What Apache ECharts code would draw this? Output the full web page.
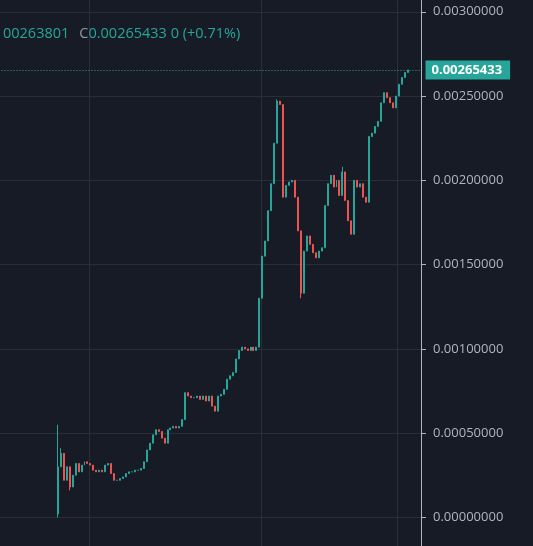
<!DOCTYPE html>
<html>
<head>
<meta charset="utf-8">
<script src="https://cdn.jsdelivr.net/npm/echarts@6.0.0/dist/echarts.min.js"></script>
<style>
  html, body { margin: 0; padding: 0; background: #171b26; }
  #chart { width: 533px; height: 546px; }
</style>
</head>
<body>
<div id="chart"></div>
<script>
// closes, one per candle
const closes = [
  0.00030, 0.00038, 0.00022, 0.00030, 0.00018, 0.00025, 0.00032, 0.00027, 0.00031, 0.00033,
  0.00032, 0.00031, 0.00028, 0.00027, 0.00028, 0.00027, 0.00031, 0.00032, 0.00026, 0.00022,
  0.00022, 0.00023, 0.00024, 0.00026, 0.00027, 0.00027, 0.00028, 0.00028, 0.00029, 0.00033,
  0.00040, 0.00044, 0.00049, 0.00052, 0.00051, 0.00047, 0.00044, 0.00052, 0.00053, 0.00054,
  0.00053, 0.00054, 0.00058, 0.00074, 0.00072, 0.00071, 0.00071, 0.00072, 0.00070, 0.00072,
  0.00069, 0.00072, 0.00066, 0.00063, 0.00072, 0.00073, 0.00076, 0.00082, 0.00084, 0.00086,
  0.00094, 0.00099, 0.00101, 0.00100, 0.00099, 0.00101, 0.00099, 0.00101, 0.00130, 0.00155,
  0.00164, 0.00182, 0.00198, 0.00222, 0.00247, 0.00245, 0.00190, 0.00197, 0.00199, 0.00200,
  0.00190, 0.00170, 0.00133, 0.00158, 0.00167, 0.00162, 0.00157, 0.00154, 0.00158, 0.00160,
  0.00185, 0.00198, 0.00203, 0.00196, 0.00200, 0.00191, 0.00205, 0.00188, 0.00176, 0.00168,
  0.00200, 0.00196, 0.00198, 0.00190, 0.00187, 0.00226, 0.00228, 0.00232, 0.00235, 0.00246,
  0.00252, 0.00249, 0.00246, 0.00243, 0.00250, 0.00257, 0.00261, 0.00264, 0.00265433
];
// a few wicks that stick out past the body
const wickHigh = { 0: 0.00055, 1: 0.00041, 74: 0.00248, 96: 0.00208 };
const wickLow = { 0: 0.0, 4: 0.00016, 82: 0.00130 };
const leadBlank = 19;
const tailBlank = 4;
const yTicks = [0, 0.0005, 0.001, 0.0015, 0.002, 0.0025, 0.003];
const lastPrice = 0.00265433;
const headerOpen = '00263801';
const headerRest = '0.00265433 0 (+0.71%)';

const up = '#26a69a', down = '#ef5350';
const cats = [];
const ohlc = [];
for (let i = 0; i < leadBlank; i++) { cats.push('b' + i); ohlc.push('-'); }
closes.forEach((c, i) => {
  const o = i === 0 ? 0.00002 : closes[i - 1];
  const hi = wickHigh[i] !== undefined ? wickHigh[i] : Math.max(o, c);
  const lo = wickLow[i] !== undefined ? wickLow[i] : Math.min(o, c);
  cats.push('c' + i);
  ohlc.push([o, c, lo, hi]);
});
for (let i = 0; i < tailBlank; i++) { cats.push('t' + i); ohlc.push('-'); }

const vLines = [30, 88, 134];
const chart = echarts.init(document.getElementById('chart'));
chart.setOption({
  backgroundColor: '#171b26',
  animation: false,
  title: {
    left: -2, top: 20,
    text: '{a|' + headerOpen + '}  {c|C}{a|' + headerRest + '}',
    textStyle: {
      rich: {
        a: { color: '#26a69a', fontSize: 14.5, fontWeight: 'normal', fontFamily: 'Open Sans' },
        c: { color: '#9598a1', fontSize: 14.5, fontWeight: 'normal', fontFamily: 'Open Sans' }
      }
    }
  },
  grid: { left: 0, right: 112, top: 0, bottom: 0 },
  xAxis: {
    type: 'category', data: cats,
    axisLine: { show: false }, axisTick: { show: false }, axisLabel: { show: false },
    splitLine: { show: true, interval: (idx) => vLines.includes(idx), lineStyle: { color: '#2a2e39' } }
  },
  yAxis: {
    type: 'value', position: 'right', scale: false,
    min: -0.00017, max: 0.00307,
    axisLine: { show: true, lineStyle: { color: '#b2b5be' } },
    axisTick: { show: true, length: 5, customValues: yTicks, lineStyle: { color: '#b2b5be' } },
    axisLabel: { color: '#b2b5be', fontSize: 13, fontFamily: 'Open Sans', margin: 12,
      customValues: yTicks, formatter: v => v.toFixed(8) },
    splitLine: { lineStyle: { color: '#2a2e39' } }
  },
  series: [{
    type: 'candlestick', data: ohlc, barMaxWidth: 2,
    itemStyle: { color: up, color0: down, borderColor: up, borderColor0: down, borderWidth: 1 },
    markLine: {
      symbol: 'none', silent: true,
      lineStyle: { color: up, type: [1, 2], width: 1 },
      label: {
        position: 'end', formatter: () => lastPrice.toFixed(8),
        backgroundColor: up, color: '#ffffff', fontSize: 13, fontFamily: 'Open Sans',
        fontWeight: 'bold', padding: [3, 8, 3, 6], distance: 6
      },
      data: [[{ coord: [cats[0], lastPrice] }, { coord: [cats[cats.length - 1], lastPrice] }]]
    }
  }]
});
</script>
</body>
</html>
